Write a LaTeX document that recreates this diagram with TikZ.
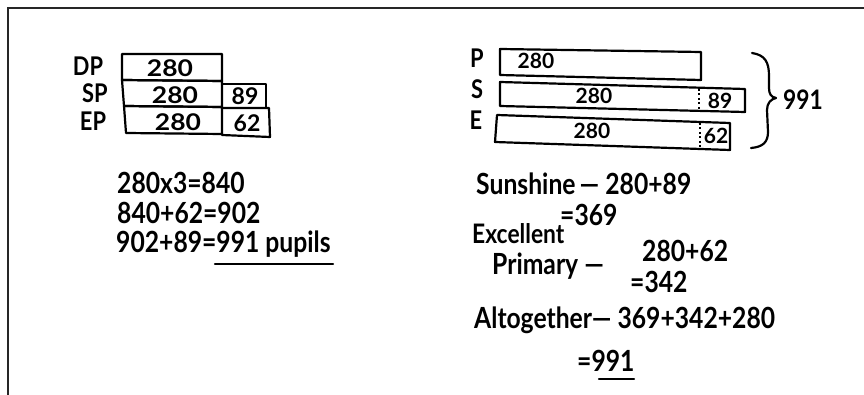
\documentclass[tikz,border=0pt]{standalone}
\usepackage{fontspec}
\usepackage{graphicx}
\setmainfont{Lato}
\newcommand\tallhw[1]{\scalebox{0.95}[1.12]{#1}}
\begin{document}
\begin{tikzpicture}[x=1pt,y=-1pt,
  ink/.style={draw=black, line width=2.2pt, line join=round, line cap=round},
  frameline/.style={draw=black!85, line width=1.8pt},
  hw/.style={inner sep=0pt, anchor=west, font=\fontsize{26}{26}\selectfont\bfseries},
  hwsmall/.style={inner sep=0pt, anchor=west, font=\fontsize{24}{24}\selectfont\bfseries},
  lbl/.style={inner sep=0pt, font=\fontsize{23}{23}\selectfont\bfseries},
  num/.style={inner sep=0pt, font=\fontsize{23}{23}\selectfont\bfseries},
  barnum/.style={inner sep=0pt, font=\fontsize{21}{21}\selectfont\bfseries},
  dotsep/.style={draw=black, line width=1.8pt, dash pattern=on 2pt off 2.5pt}]
\useasboundingbox (0,0) rectangle (864,395);
\fill[white] (0,0) rectangle (864,395);
\draw[frameline] (8,395) -- (8,8) -- (864,8);

% ---------- left model ----------
\node[lbl] (dp) at (88,66) {\tallhw{DP}};
\node[lbl] (sp) at (95,93) {\tallhw{SP}};
\node[lbl] (ep) at (93,121) {\tallhw{EP}};

\draw[ink] (122,54) -- (222,54) -- (222,81) -- (122,80) -- cycle;
\draw[ink] (122,80) -- (222,81) -- (222,107) -- (124,106) -- cycle;
\draw[ink] (222,84) -- (266,84) -- (266,108) -- (222,108);
\draw[ink] (124,106) -- (222,107) -- (222,134) -- (126,133) -- cycle;
\draw[ink] (222,108) -- (269,108) -- (270,137) -- (222,135);

\node[num] (dpn) at (170,68) {\scalebox{1.15}[1]{280}};
\node[num] (spn) at (175,95) {\scalebox{1.15}[1]{280}};
\node[num] (epn) at (178,122) {\scalebox{1.15}[1]{280}};
\node[num] (sx) at (245,96) {89};
\node[num] (ex) at (247,123) {62};

\node[hw] (eq1) at (117,183) {\tallhw{280x3=840}};
\node[hw] (eq2) at (117,213) {\tallhw{840+62=902}};
\node[hw] (eq3) at (116,244) {\tallhw{902+89=991 pupils}};
\draw[ink] (215,264) -- (333,264);

% ---------- right model ----------
\node[lbl] (p) at (477,58) {\tallhw{P}};
\node[lbl] (s) at (477,89) {\tallhw{S}};
\node[lbl] (e) at (476,120) {\tallhw{E}};

\draw[ink] (500,49) -- (701,52) -- (701,80) -- (500,75) -- cycle;
\draw[ink] (500,82) -- (745,89) -- (745,112) -- (500,106) -- cycle;
\draw[ink] (497,115) -- (730,123) -- (730,150) -- (495,142) -- cycle;
\draw[dotsep] (699,89) -- (699,111);
\draw[dotsep] (700,123) -- (700,148);

\node[barnum] (pn) at (536,61) {280};
\node[barnum] (snn) at (594,96) {280};
\node[barnum] (enn) at (592,131) {280};
\node[barnum] (s89) at (720,101) {89};
\node[barnum] (e62) at (716,136) {62};

\draw[ink] (752,53) .. controls (765,55) and (769,62) .. (769,76) -- (769,88)
  .. controls (769,94) and (771,97) .. (776,98)
  .. controls (771,99) and (767,103) .. (767,110) -- (768,132)
  .. controls (768,142) and (763,147) .. (751,148);
\node[hw, anchor=center, font=\fontsize{24}{24}\selectfont\bfseries] (tot) at (803,100) {\tallhw{991}};

\node[hw] (sun) at (476,184) {\tallhw{Sunshine\,— 280+89}};
\node[hw] (s369) at (560,215) {\tallhw{=369}};
\node[hwsmall] (exc) at (472,234) {\tallhw{Excellent}};
\node[hw] (pri) at (492,266) {\tallhw{Primary —}};
\node[hw] (e1) at (642,251) {\tallhw{280+62}};
\node[hw] (e2) at (630,282) {\tallhw{=342}};
\node[hw] (alt) at (474,320) {\tallhw{Altogether— 369+342+280}};
\node[hw] (tot2) at (577,361) {\tallhw{=991}};
\draw[ink] (599,379) -- (634,379);
\end{tikzpicture}
\end{document}
